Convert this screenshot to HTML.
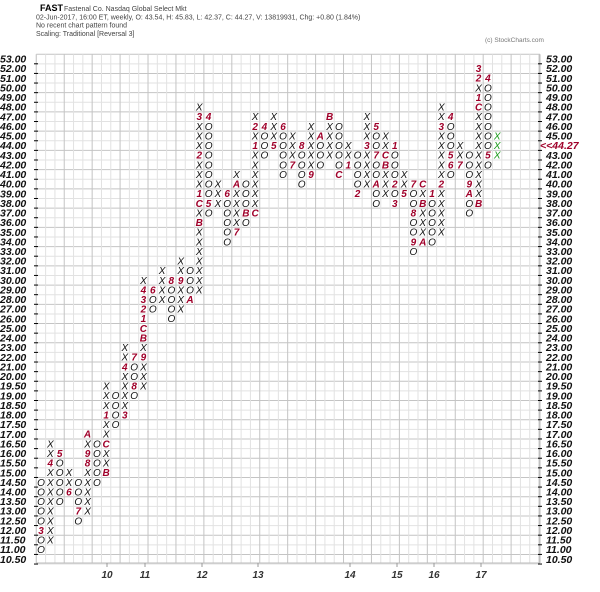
<!DOCTYPE html>
<html><head><meta charset="utf-8">
<style>
html,body{margin:0;padding:0;background:#fff;}
body{width:600px;height:592px;overflow:hidden;}
svg{display:block;}
</style></head>
<body>
<svg id="c" width="600" height="592" xmlns="http://www.w3.org/2000/svg" font-family="Liberation Sans, sans-serif">
<text x="40" y="11" font-size="9" font-weight="bold" fill="#000">FAST</text>
<text x="64" y="11" font-size="7" fill="#444">Fastenal Co.  Nasdaq Global Select Mkt</text>
<text x="36" y="19.5" font-size="7" fill="#444">02-Jun-2017, 16:00 ET, weekly, O: 43.54, H: 45.83, L: 42.37, C: 44.27, V: 13819931, Chg: +0.80 (1.84%)</text>
<text x="36" y="27.5" font-size="7" fill="#444">No recent chart pattern found</text>
<text x="36" y="36" font-size="7" fill="#444">Scaling: Traditional [Reversal  3]</text>
<text x="485" y="42" font-size="6.5" fill="#777">(c) StockCharts.com</text>
<g id="g"></g>
</svg>
<script>
var NS="http://www.w3.org/2000/svg",g=document.getElementById('g');
function el(t,a,txt){var e=document.createElementNS(NS,t);for(var k in a)e.setAttribute(k,a[k]);if(txt!=null)e.textContent=txt;g.appendChild(e);return e;}
var top0=59,rh=9.62,L=36.3,cw=9.31,R=540,T=54.2,B=563;
function row(p){return p>=20?53-p:33+(20-p)/0.5;}
function yc(r){return top0+r*rh;}
function xc(c){return 41+c*cw;}
for(var r=0;r<=53;r++){var y=T+r*rh;el('line',{x1:L,x2:R,y1:y,y2:y,stroke:(r%2? '#e2e2e2':'#c4c4c4'),'stroke-width':1});}
for(var k=0;k<=55;k++){var x=L+k*cw;if(x>R+0.5)break;el('line',{x1:x,x2:x,y1:T,y2:B,stroke:(k%3==0?'#c4c4c4':'#e2e2e2'),'stroke-width':1});}
el('line',{x1:R,x2:R,y1:T,y2:B,stroke:'#bbb'});
el('line',{x1:L,x2:L,y1:T,y2:B,stroke:'#ccc'});
el('line',{x1:L,x2:R,y1:B,y2:B,stroke:'#bbb'});
var labs=[];for(var p=53;p>=20;p--)labs.push(p);for(var p=19.5;p>=10.5;p-=0.5)labs.push(p);
labs.forEach(function(p){var r=row(p),y=yc(r);
 el('text',{x:0,y:y+3.6,'font-size':10.5,'font-style':'italic','font-weight':'bold',fill:'#111'},p.toFixed(2));
 if(p!=44)el('text',{x:546,y:y+3.6,'font-size':10.5,'font-style':'italic','font-weight':'bold',fill:'#111'},p.toFixed(2));
 el('line',{x1:34,x2:38,y1:y+4.8,y2:y+4.8,stroke:'#000'});
 el('line',{x1:538,x2:542,y1:y+4.8,y2:y+4.8,stroke:'#000'});
});
el('text',{x:540,y:yc(9)+3.6,'font-size':10.5,'font-style':'italic','font-weight':'bold',fill:'#a0002a'},'<<44.27');
[[10,107],[11,145],[12,202],[13,258],[14,350],[15,397],[16,434],[17,481]].forEach(function(a){
 el('text',{x:a[1],y:578,'font-size':10,'font-style':'italic','font-weight':'bold',fill:'#333','text-anchor':'middle'},String(a[0]));
 el('line',{x1:a[1],x2:a[1],y1:B,y2:B+4,stroke:'#999'});});
var D=[
[0,'O',11,14.5,{12:'3'}],[1,'X',11.5,16.5,{15.5:'4'}],[2,'O',13.5,16,{16:'5'}],[3,'X',14,15,{14:'6'}],
[4,'O',12.5,14.5,{13:'7'}],[5,'X',13,17,{15.5:'8',16:'9',17:'A'}],[6,'O',14.5,16.5,{}],[7,'X',15,19.5,{15:'B',16.5:'C',18:'1'}],
[8,'O',17.5,19,{}],[9,'X',18,23,{18:'3',21:'4'}],[10,'O',19,22,{22:'7',19.5:'8'}],
[11,'X',19.5,30,{22:'9',24:'B',25:'C',26:'1',27:'2',28:'3',29:'4'}],[12,'O',27,29,{29:'6'}],[13,'X',28,31,{}],
[14,'O',26,30,{30:'8'}],[15,'X',27,32,{30:'9'}],[16,'O',28,31,{28:'A'}],[17,'X',29,48,{36:'B',38:'C',39:'1',43:'2',47:'3'}],
[18,'O',37,47,{47:'4',38:'5'}],[19,'X',38,40,{}],[20,'O',34,39,{39:'6'}],[21,'X',35,41,{35:'7',40:'A'}],
[22,'O',36,40,{37:'B'}],[23,'X',37,47,{37:'C',44:'1',46:'2'}],[24,'O',43,46,{46:'4'}],[25,'X',44,47,{44:'5'}],
[26,'O',41,46,{46:'6'}],[27,'X',42,45,{42:'7'}],[28,'O',40,44,{44:'8'}],[29,'X',41,46,{41:'9'}],
[30,'O',42,45,{45:'A'}],[31,'X',43,47,{47:'B'}],[32,'O',41,46,{41:'C'}],[33,'X',42,44,{42:'1'}],
[34,'O',39,43,{39:'2'}],[35,'X',40,47,{44:'3'}],[36,'O',38,46,{46:'5',43:'7',40:'A'}],[37,'X',39,45,{42:'B',43:'C'}],
[38,'O',38,44,{44:'1',40:'2',38:'3'}],[39,'X',39,41,{39:'5'}],[40,'O',33,40,{40:'7',37:'8',34:'9'}],
[41,'X',34,40,{40:'C',38:'B',34:'A'}],[42,'O',34,39,{39:'1'}],[43,'X',35,48,{40:'2',46:'3'}],
[44,'O',41,47,{47:'4',43:'5',42:'6'}],[45,'X',42,44,{42:'7'}],[46,'O',37,43,{40:'9',39:'A'}],
[47,'X',38,52,{38:'B',48:'C',49:'1',51:'2',52:'3'}],[48,'O',42,51,{51:'4',43:'5'}],[49,'G',43,45,{}]];
D.forEach(function(d){var c=d[0],t=d[1],lo=d[2],hi=d[3],m=d[4];
 var r1=row(hi),r2=row(lo);
 for(var r=r1;r<=r2;r++){
  var p=r<=33?53-r:20-(r-33)*0.5;var key=String(p);
  var txt,fill;
  if(m[key]!==undefined){txt=m[key];fill='#a0002a';}
  else{txt=(t=='O'?'O':'X');fill=(t=='G'?'#1a9a1a':'#111');}
  el('text',{x:xc(c),y:yc(r)+3.5,'font-size':10,'font-style':'italic','font-weight':(m[key]!==undefined?'bold':'normal'),fill:fill,'text-anchor':'middle'},txt);
 }
});
</script>
</body></html>
